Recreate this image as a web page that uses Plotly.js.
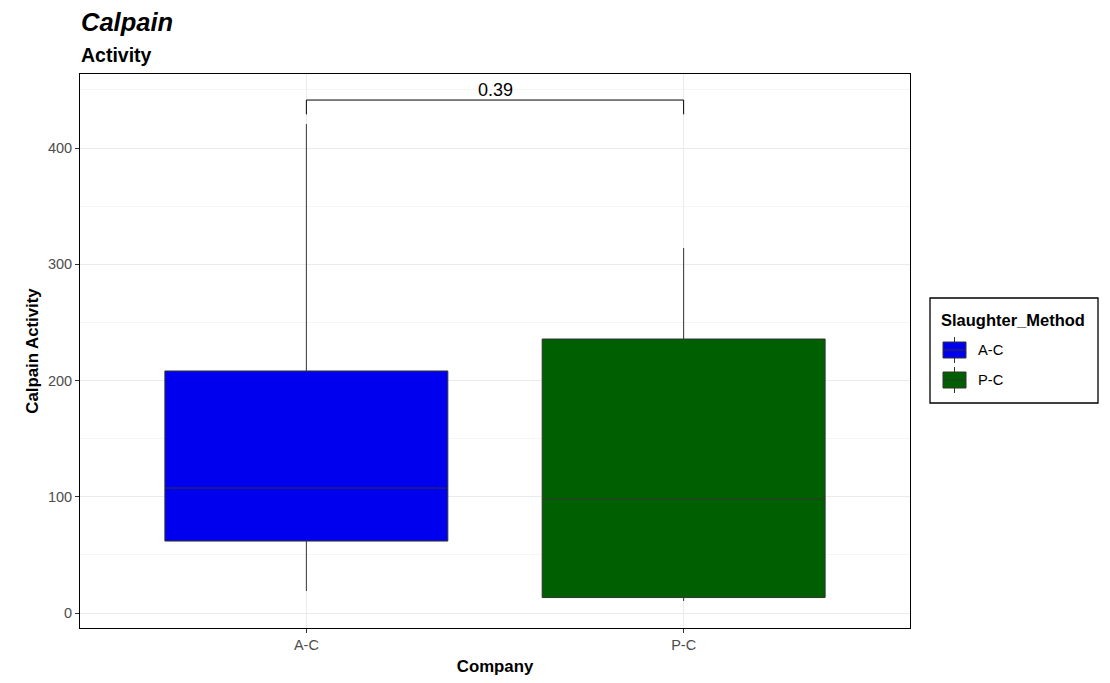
<!DOCTYPE html>
<html><head><meta charset="utf-8">
<script src="https://cdn.plot.ly/plotly-3.0.1.min.js"></script>
<style>body{margin:0;background:#fff}#p{width:1110px;height:683px}</style>
</head><body><div id="p"></div>
<script>
const categories = ["A-C", "P-C"];
const q1 = [61.9, 13.3];
const medians = [107.5, 98.1];
const q3 = [208.2, 235.7];
const lowerFence = [18.9, 10.3];
const upperFence = [420.6, 314.0];
const colors = ["#0000EE", "#005F00"];
const legendTitle = "Slaughter_Method";
const pLabel = "0.39";
const bracketY = 441.3;
const bracketTickY = 429.0;

const traces = categories.map((c, i) => ({
  type: "box",
  name: c,
  x: [c],
  q1: [q1[i]], median: [medians[i]], q3: [q3[i]],
  lowerfence: [lowerFence[i]], upperfence: [upperFence[i]],
  fillcolor: colors[i],
  line: {color: "#333333", width: 1},
  whiskerwidth: 0,
  width: 0.75,
  boxpoints: false,
  hoverinfo: "skip",
  showlegend: false
}));

// plot area in pixels: x 80..910, y 74..628
const PL = 80, PR = 910, PT = 74, PB = 628;
const px = x => (x - PL) / (PR - PL);
const py = y => (PB - y) / (PB - PT);

const shapes = [
  {type: "line", xref: "x", yref: "y", x0: categories[0], x1: categories[0], y0: bracketTickY, y1: bracketY, line: {color: "#000", width: 1}},
  {type: "line", xref: "x", yref: "y", x0: categories[0], x1: categories[1], y0: bracketY, y1: bracketY, line: {color: "#000", width: 1}},
  {type: "line", xref: "x", yref: "y", x0: categories[1], x1: categories[1], y0: bracketTickY, y1: bracketY, line: {color: "#000", width: 1}},
  // legend frame
  {type: "rect", xref: "paper", yref: "paper", x0: px(930), x1: px(1098), y0: py(403), y1: py(298), line: {color: "#000", width: 1.3}, fillcolor: "#fff", layer: "below"}
];
const annotations = [
  {xref: "x", yref: "y", x: 0.5, y: bracketY, text: pLabel, showarrow: false, yanchor: "bottom", yshift: -2, font: {size: 18, color: "#000"}},
  {xref: "paper", yref: "paper", x: 0, y: 1, xshift: -1, yshift: 52, xanchor: "left", yanchor: "middle", text: "<b><i>Calpain</i></b>", showarrow: false, font: {size: 25.5, color: "#000"}},
  {xref: "paper", yref: "paper", x: 0, y: 1, xshift: -1, yshift: 19, xanchor: "left", yanchor: "middle", text: "<b>Activity</b>", showarrow: false, font: {size: 19.5, color: "#000"}},
  {xref: "paper", yref: "paper", x: px(939), y: py(320), xanchor: "left", yanchor: "middle", text: "<b>" + legendTitle + "</b>", showarrow: false, font: {size: 16.5, color: "#000"}}
];
categories.forEach((c, i) => {
  const cy = 350 + i * 30;
  shapes.push({type: "line", xref: "paper", yref: "paper", x0: px(954.5), x1: px(954.5), y0: py(cy + 13), y1: py(cy - 13), line: {color: "#333", width: 1}});
  shapes.push({type: "rect", xref: "paper", yref: "paper", x0: px(943), x1: px(966), y0: py(cy + 8), y1: py(cy - 8), fillcolor: colors[i], line: {color: "#333", width: 1}});
  shapes.push({type: "line", xref: "paper", yref: "paper", x0: px(943), x1: px(966), y0: py(cy), y1: py(cy), line: {color: "#333", width: 1}});
  annotations.push({xref: "paper", yref: "paper", x: px(976), y: py(cy), xanchor: "left", yanchor: "middle", text: c, showarrow: false, font: {size: 14.7, color: "#000"}});
});

const layout = {
  width: 1110, height: 683,
  margin: {l: PL, r: 1110 - PR, t: PT, b: 683 - PB},
  paper_bgcolor: "#fff", plot_bgcolor: "#fff",
  font: {family: "Liberation Sans, Arial, sans-serif", color: "#000"},
  showlegend: false,
  boxmode: "overlay",
  xaxis: {
    type: "category", range: [-0.6, 1.6],
    showline: true, mirror: true, linecolor: "#000", linewidth: 1,
    showgrid: true, gridcolor: "#EBEBEB", gridwidth: 1,
    ticks: "outside", ticklen: 4, tickcolor: "#333", tickwidth: 1,
    tickfont: {size: 14.5, color: "#4D4D4D"},
    title: {text: "<b>Company</b>", font: {size: 16.8, color: "#000"}, standoff: 7},
    zeroline: false, fixedrange: true
  },
  yaxis: {
    range: [-12.9, 463.7], dtick: 100, tick0: 0,
    showline: true, mirror: true, linecolor: "#000", linewidth: 1,
    showgrid: true, gridcolor: "#EBEBEB", gridwidth: 1,
    minor: {dtick: 50, tick0: 0, showgrid: true, gridcolor: "#F5F5F5", gridwidth: 1, ticks: ""},
    ticks: "outside", ticklen: 4, tickcolor: "#333", tickwidth: 1,
    tickfont: {size: 14.5, color: "#4D4D4D"},
    title: {text: "<b>Calpain Activity</b>", font: {size: 16.8, color: "#000"}, standoff: 5},
    zeroline: false, fixedrange: true
  },
  shapes: shapes,
  annotations: annotations
};

Plotly.newPlot("p", traces, layout, {displayModeBar: false, staticPlot: true});
</script>
</body></html>
